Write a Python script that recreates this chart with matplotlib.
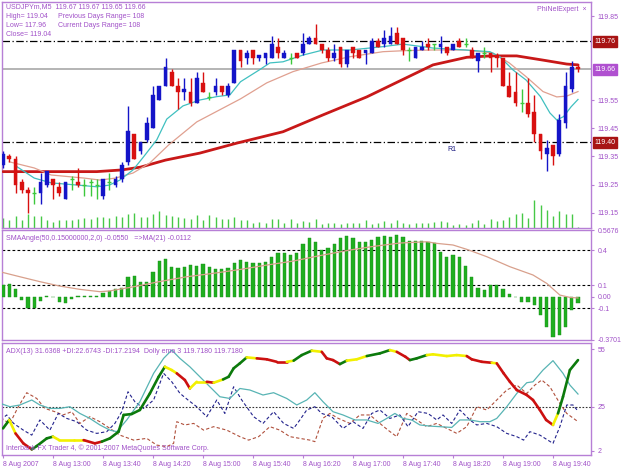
import matplotlib
matplotlib.use('Agg')
import matplotlib.pyplot as plt
import matplotlib.transforms as mtransforms
from matplotlib.collections import LineCollection
import numpy as np

# ---------------- data ----------------
opens = [119.32, 119.35, 119.34, 119.26, 119.23, 119.22, 119.22, 119.25, 119.27, 119.24,
         119.20, 119.27, 119.26, 119.25, 119.26, 119.25, 119.21, 119.26, 119.25, 119.27,
         119.33, 119.43, 119.37, 119.41, 119.45, 119.55, 119.60, 119.65, 119.60, 119.58,
         119.58, 119.54, 119.61, 119.56, 119.58, 119.60, 119.57, 119.61, 119.73, 119.70,
         119.73, 119.70, 119.70, 119.70, 119.74, 119.70, 119.70, 119.72, 119.72, 119.75,
         119.77, 119.75, 119.73, 119.70, 119.74, 119.68, 119.74, 119.73, 119.72, 119.72,
         119.76, 119.75, 119.75, 119.79, 119.77, 119.73, 119.70, 119.73, 119.75, 119.75,
         119.74, 119.74, 119.73, 119.76, 119.75, 119.73, 119.69, 119.72, 119.72, 119.71,
         119.70, 119.60, 119.58, 119.54, 119.54, 119.51, 119.43, 119.36, 119.39, 119.36,
         119.47, 119.59, 119.67]
highs = [119.37, 119.36, 119.35, 119.27, 119.24, 119.24, 119.29, 119.30, 119.27, 119.26,
         119.26, 119.28, 119.31, 119.27, 119.27, 119.27, 119.27, 119.29, 119.28, 119.33,
         119.53, 119.43, 119.40, 119.49, 119.60, 119.60, 119.70, 119.66, 119.63, 119.63,
         119.63, 119.65, 119.65, 119.58, 119.63, 119.60, 119.61, 119.73, 119.73, 119.73,
         119.73, 119.71, 119.72, 119.78, 119.77, 119.73, 119.72, 119.72, 119.79, 119.78,
         119.82, 119.75, 119.74, 119.75, 119.74, 119.73, 119.74, 119.73, 119.73, 119.77,
         119.77, 119.80, 119.81, 119.81, 119.77, 119.74, 119.74, 119.76, 119.77, 119.75,
         119.78, 119.74, 119.75, 119.77, 119.77, 119.74, 119.72, 119.74, 119.72, 119.72,
         119.70, 119.65, 119.65, 119.59, 119.63, 119.57, 119.43, 119.41, 119.39, 119.50,
         119.65, 119.69, 119.68]
lows = [119.31, 119.33, 119.22, 119.22, 119.15, 119.18, 119.18, 119.24, 119.20, 119.21,
        119.20, 119.23, 119.24, 119.21, 119.21, 119.20, 119.20, 119.23, 119.24, 119.26,
        119.32, 119.34, 119.36, 119.40, 119.45, 119.55, 119.60, 119.60, 119.52, 119.55,
        119.53, 119.54, 119.58, 119.55, 119.57, 119.57, 119.56, 119.61, 119.67, 119.68,
        119.68, 119.69, 119.68, 119.70, 119.70, 119.70, 119.68, 119.70, 119.71, 119.75,
        119.75, 119.72, 119.69, 119.69, 119.67, 119.67, 119.70, 119.70, 119.68, 119.72,
        119.74, 119.74, 119.75, 119.75, 119.71, 119.69, 119.70, 119.73, 119.73, 119.73,
        119.72, 119.71, 119.73, 119.74, 119.74, 119.70, 119.65, 119.70, 119.65, 119.67,
        119.60, 119.56, 119.53, 119.51, 119.49, 119.40, 119.34, 119.30, 119.32, 119.35,
        119.45, 119.58, 119.65]
closes = [119.36, 119.34, 119.25, 119.23, 119.22, 119.22, 119.26, 119.30, 119.25, 119.22,
          119.26, 119.27, 119.25, 119.25, 119.26, 119.25, 119.27, 119.26, 119.27, 119.32,
          119.44, 119.34, 119.40, 119.47, 119.57, 119.60, 119.67, 119.60, 119.58, 119.59,
          119.54, 119.63, 119.58, 119.56, 119.60, 119.58, 119.60, 119.73, 119.69, 119.72,
          119.70, 119.71, 119.72, 119.75, 119.72, 119.72, 119.70, 119.70, 119.75, 119.77,
          119.75, 119.73, 119.70, 119.72, 119.68, 119.73, 119.72, 119.70, 119.73, 119.76,
          119.74, 119.77, 119.78, 119.75, 119.73, 119.73, 119.74, 119.74, 119.74, 119.75,
          119.75, 119.72, 119.75, 119.74, 119.75, 119.70, 119.72, 119.72, 119.70, 119.70,
          119.60, 119.56, 119.54, 119.54, 119.50, 119.43, 119.37, 119.38, 119.35, 119.48,
          119.60, 119.67, 119.66]
volumes = [31, 23, 35, 23, 43, 35, 35, 23, 18, 23, 23, 23, 28, 31, 28, 33, 33, 31, 35, 33,
           43, 45, 33, 33, 43, 51, 38, 35, 33, 31, 28, 38, 23, 40, 33, 28, 28, 33, 25, 23,
           15, 18, 15, 28, 28, 15, 28, 15, 21, 18, 28, 13, 15, 15, 11, 15, 15, 15, 23, 11,
           15, 21, 15, 23, 15, 11, 15, 15, 15, 18, 21, 18, 8, 13, 8, 15, 23, 11, 28, 21,
           23, 33, 43, 45, 31, 85, 68, 55, 35, 51, 41, 43, 3]

# moving averages on price (bar index, price)
ma_fast_x = [2.2, 5, 7.7, 13, 15, 17, 18.7, 20.8, 22.5, 24.6, 26.2, 28.8, 31.5, 34.2, 36.3,
             38, 41, 42.7, 44.8, 48, 51.2, 55.5, 58.2, 60.8, 64, 68.8, 74, 77.9, 79.5, 81.6,
             83.7, 86, 87.5, 88.6, 89.7, 90.9, 92]
ma_fast_y = [119.314, 119.273, 119.256, 119.246, 119.242, 119.248, 119.266, 119.302, 119.349,
             119.409, 119.483, 119.530, 119.551, 119.563, 119.569, 119.616, 119.658, 119.683,
             119.687, 119.711, 119.729, 119.729, 119.735, 119.741, 119.750, 119.736, 119.729,
             119.723, 119.705, 119.658, 119.622, 119.563, 119.505, 119.480, 119.492, 119.527,
             119.553]
ma_mid_x = [1, 5, 7.7, 13, 15.5, 18, 20.8, 23.5, 26.5, 31, 38, 42.2, 46.4, 51, 55.5, 60.8,
            64.6, 68.8, 74, 78.4, 81, 83.7, 86.4, 88.6, 90.2, 92]
ma_mid_y = [119.331, 119.309, 119.284, 119.273, 119.266, 119.273, 119.291, 119.327, 119.391,
            119.473, 119.555, 119.612, 119.652, 119.683, 119.705, 119.723, 119.727, 119.729,
            119.729, 119.718, 119.683, 119.634, 119.581, 119.562, 119.565, 119.581]
ma_slow_x = [0, 15, 19, 22, 26, 31.5, 37.5, 44.8, 51.2, 58.2, 63.5, 68.8, 74.2, 78, 82.2,
             86.4, 90.2, 92]
ma_slow_y = [119.296, 119.296, 119.302, 119.312, 119.337, 119.362, 119.398, 119.438, 119.498,
             119.562, 119.619, 119.676, 119.703, 119.708, 119.708, 119.693, 119.679, 119.676]

level_r1 = 119.40
level_top = 119.76
level_bid = 119.66
main_ticks = [119.85, 119.55, 119.45, 119.35, 119.25, 119.15]

# SMAAngle histogram
sma_angle = [0.10, 0.11, 0.07, -0.03, -0.10, -0.10, -0.035, 0.005, -0.005, -0.043,
             -0.05, -0.023, 0.002, 0.003, 0.005, 0.008, 0.03, 0.05, 0.07, 0.075,
             0.166, 0.177, 0.129, 0.129, 0.214, 0.309, 0.32, 0.257, 0.249, 0.251,
             0.271, 0.266, 0.28, 0.257, 0.234, 0.234, 0.243, 0.286, 0.314, 0.30,
             0.286, 0.286, 0.30, 0.337, 0.377, 0.371, 0.357, 0.377, 0.45, 0.50,
             0.47, 0.40, 0.414, 0.449, 0.50, 0.52, 0.506, 0.471, 0.466, 0.486,
             0.514, 0.52, 0.514, 0.529, 0.514, 0.48, 0.475, 0.48, 0.471, 0.463,
             0.386, 0.343, 0.357, 0.343, 0.266, 0.166, 0.071, 0.057, 0.10, 0.10,
             0.066, 0.023, -0.006, -0.043, -0.043, -0.071, -0.157, -0.263, -0.343, -0.329,
             -0.257, -0.114, -0.055]
sma_ma_x = [-0.5, 2.7, 5.9, 9.1, 12.3, 15.5, 17, 21, 25, 29.4, 33.6, 38, 42.2, 46.5, 50.5,
            55.5, 59, 63.5, 67.8, 69.4, 72, 74.2, 77.4, 81.1, 84.8, 87, 89.1, 90.7, 92]
sma_ma_y = [0.214, 0.171, 0.129, 0.091, 0.063, 0.043, 0.049, 0.086, 0.129, 0.171, 0.20,
            0.234, 0.271, 0.306, 0.35, 0.40, 0.429, 0.46, 0.471, 0.457, 0.443, 0.406, 0.343,
            0.257, 0.186, 0.114, 0.014, -0.006, -0.011]
sma_levels = [0.4, 0.1, -0.1]
sma_ticks = [0.5676, 0.4, 0.1, 0.0, -0.1, -0.3701]
sma_tick_labels = ['0.5676', '0.4', '0.1', '0.00', '-0.1', '-0.3701']

# ADX panel
adx_x = [-0.4, 1.1, 2.7, 4.6, 5.9, 7.5, 9.1, 10.7, 12.3, 13.9, 15.5, 17.1, 18.2, 19.8, 21.9,
         24.1, 25.7, 27, 28.3, 29.9, 31.5, 33.1, 34.7, 36.3, 37.9, 39.5, 41.6, 43.3, 45.4, 47,
         48.6, 49.9, 51.2, 52.8, 54.4, 56.3, 58.2, 60, 61.4, 62.7, 64, 65.4, 66.7, 68.3, 69.9,
         71.8, 73.1, 74.7, 76.3, 77.9, 79, 80.6, 82.2, 83.8, 84.8, 86.4, 88, 89.6, 90.7, 92]
adx_y = [26.7, 25, 25.9, 28.5, 25.9, 24.1, 24.1, 25, 21.5, 18.9, 15.5, 12.8, 12, 18.1, 27.6,
         42.4, 50.2, 54.5, 50.2, 45.8, 40.6, 35.4, 30.2, 29.3, 34.5, 33.7, 31.1, 32.3, 29.3, 25.9,
         28.5, 32.3, 27.6, 22.4, 20.7, 18.1, 18.1, 16.3, 18.9, 21.5, 18.9, 18.1, 15.5, 14.9, 14.6,
         14.2, 18.1, 18.1, 17.2, 17.2, 18.9, 25, 31.9, 37.5, 38, 44.1, 49, 42.4, 36.3, 31.6]
pdi_x = [-0.4, 0.6, 1.7, 3.25, 4.6, 5.9, 7.5, 8.85, 10.2, 11.8, 13.4, 15, 16.6, 17.9, 19, 20,
         21.1, 22.5, 24.1, 25.7, 27, 28.3, 29.6, 31, 32.6, 34.2, 35.5, 36.9, 38.2, 40.1, 41.6,
         43.3, 44.9, 46.5, 47.5, 48.6, 49.9, 51, 52.6, 54.4, 56, 57.6, 59, 60.3, 61.9, 63.5,
         64.8, 66.4, 68, 69.4, 70.4, 71.8, 73.1, 74.7, 75.8, 77.4, 79, 80.6, 82.2, 83.3, 84.3,
         85.9, 88, 89.1, 90.2, 91.2, 92]
pdi_y = [18.1, 20.7, 16.3, 12.8, 10.2, 18.1, 12.8, 21.5, 18.9, 17.2, 12.8, 11.1, 12, 16.3,
         22.4, 32.8, 27.6, 24.1, 28.5, 42.4, 38, 32, 28.5, 25, 19.8, 28.5, 21.5, 35.4, 28.5,
         19.8, 16.3, 22.4, 16.3, 13.7, 18.1, 23.3, 25, 21.5, 19.8, 13.7, 17.2, 13.7, 21.5,
         23.3, 18.9, 20.7, 14.6, 22.4, 21.5, 18.1, 20.7, 16.3, 23.3, 18.1, 15.5, 16.3, 14.6,
         11.1, 9.4, 7.6, 12, 10.2, 5.9, 14.6, 25.9, 25.9, 22.7]
mdi_x = [-0.4, 1.1, 2.45, 3.8, 5.4, 6.7, 8.3, 9.6, 11, 12.3, 13.9, 15.5, 17.1, 18.7, 20.9, 23,
         24.6, 26.2, 27.3, 27.8, 29.1, 30.5, 32.1, 33.7, 35.8, 37.9, 39.3, 40.9, 42.7, 44.3,
         45.9, 47.5, 49.1, 49.9, 51.2, 52.3, 53.6, 55.5, 57.1, 58.7, 60.3, 61.6, 63, 64.6, 66.2,
         67.8, 69.4, 71, 72.6, 74.2, 75.8, 77.4, 79, 80.6, 82.2, 83.8, 85.1, 86.2, 87.5, 89.1,
         90.2, 92]
mdi_y = [19, 16.3, 25, 32.3, 29.3, 24.1, 22.4, 20.7, 22.4, 16.3, 19.8, 17.2, 13.7, 10.2, 7.6,
         8.5, 5, 4.2, 5.9, 17.2, 15.5, 16.3, 12.8, 14.6, 12.8, 9.4, 7.6, 9.4, 14.6, 12.8, 9.4,
         8.5, 7.6, 6.8, 19, 21.5, 19, 16.3, 20.7, 20.7, 16.3, 12.8, 9.4, 21.5, 18.1, 14.6, 16.3,
         13.7, 11.1, 14.6, 25, 23.3, 28.5, 33.7, 36.3, 31.9, 36.3, 38.9, 35.4, 26.7, 21.5, 17.2]
dolly_x = [0, 1, 2, 3.25, 4.6, 5.4, 7, 8, 9, 11.3,
           12.9, 14.7, 15.8, 17.1, 18.5, 19.3, 20.6, 21.9, 23.5, 24.9,
           25.9, 27, 27.8, 29.1, 29.9, 31, 32.6, 33.7, 35.2, 36.1,
           36.9, 37.9, 39, 40.6, 42.2, 43.8, 45.4, 46.5, 47.8, 49.4,
           51, 51.8, 52.8, 53.9, 55, 56.6, 58.2, 60.3, 61.9, 63,
           64.4, 65.1, 66.2, 67.8, 68.8, 71, 72.6, 74.2, 75, 76.6,
           78.2, 79, 80.1, 81.1, 82.2, 83.8, 84.8, 85.9, 86.9, 88,
           88.8, 89.6, 90.7, 92]
dolly_y = [13.7, 18.1, 11.1, 5.9, 2.8, 4.5, 8.5, 9.4, 7.6, 7.6,
           7.6, 5.9, 6.8, 8.5, 12, 20.7, 21.2, 23.3, 31.9, 40.6,
           45.8, 44.1, 42.4, 38.9, 34.5, 38, 38, 37.5, 39.2, 40.6,
           45, 47.6, 50.7, 50.2, 49.7, 48.4, 48.4, 49, 51.9, 54.2,
           53.6, 50.2, 49.3, 47.2, 49, 49.7, 51.4, 52.8, 54.5, 53.6,
           51, 49.3, 50.2, 51.9, 52.3, 51.4, 51.9, 51.4, 49.7, 48.4,
           47.9, 47.6, 42.4, 38, 33.7, 31.1, 28.5, 23.3, 18.1, 15.5,
           21.5, 30.2, 44.1, 49.3]
# state of each segment: u = rising, f = flat, d = falling
dolly_state = ("ufdduuufff" "dduuuuuuuu" "ffddffdfuu" "uufdddfuuf"
               "ddduffuufd" "duuffffddd" "fddddddddf" "uuu")
adx_level = 25
adx_ticks = [55, 25, 2]

time_ticks = list(range(0, 93, 8))
time_labels = ['8 Aug 2007', '8 Aug 13:00', '8 Aug 13:40', '8 Aug 14:20', '8 Aug 15:00',
               '8 Aug 15:40', '8 Aug 16:20', '8 Aug 17:00', '8 Aug 17:40', '8 Aug 18:20',
               '8 Aug 19:00', '8 Aug 19:40']

# ---------------- drawing ----------------
plt.rcParams['font.family'] = ['Liberation Sans', 'DejaVu Sans']
FS = 5
PURPLE = '#a050c8'
FRAME = '#b77fd6'
BLUE = '#1414c8'
RED = '#d81010'
DOJI = '#3cc83c'

W, H = 625, 469
fig = plt.figure(figsize=(6.25, 4.69), dpi=100)
fig.patch.set_facecolor('white')


def px_axes(left, top, right, bottom):
    return fig.add_axes([left / W, 1 - bottom / H, (right - left) / W, (bottom - top) / H])


def ftext(x, y, s, **kw):
    fig.text(x / W, 1 - y / H, s, fontsize=FS, color=PURPLE, va='center', ha='left', **kw)


ax1 = px_axes(2, 2, 591, 228)
ax2 = px_axes(2, 230, 591, 340)
ax3 = px_axes(2, 343, 591, 455)
XL = (-0.16, 94.08)
for ax in (ax1, ax2, ax3):
    ax.set_xlim(*XL)
    for sp in ax.spines.values():
        sp.set_color(FRAME)
        sp.set_linewidth(1.0)
    ax.yaxis.tick_right()
    ax.tick_params(axis='y', colors=FRAME, labelcolor=PURPLE, labelsize=FS,
                   direction='out', length=2.5, width=0.8, pad=2)
    ax.tick_params(axis='x', bottom=False, labelbottom=False)

# main panel
ax1.set_ylim(119.0953, 119.8999)
x = np.arange(len(opens))
o = np.array(opens); hi = np.array(highs); lo = np.array(lows); c = np.array(closes)
up = c > o
dn = c < o
dj = c == o

ax1.axhline(level_bid, color='#b4b4b4', lw=1.4, zorder=1)
ax1.axhline(level_top, color='black', lw=0.9, ls=(0, (6, 2, 1, 2)), zorder=1)
ax1.axhline(level_r1, color='black', lw=0.9, ls=(0, (6, 2, 1, 2)), zorder=1)

vol = np.array(volumes, dtype=float)
ax1.vlines(x, 0, vol / (3 * 226.0), transform=ax1.get_xaxis_transform(),
           color='#46c846', lw=1.0, zorder=2)

ax1.plot(ma_slow_x, ma_slow_y, color='#c81818', lw=2.0, zorder=3, solid_capstyle='round')
ax1.plot(ma_mid_x, ma_mid_y, color='#e0a090', lw=0.9, zorder=3)
ax1.plot(ma_fast_x, ma_fast_y, color='#40c0c0', lw=0.9, zorder=3)

ax1.vlines(x[up], lo[up], hi[up], color=BLUE, lw=1.0, zorder=4)
ax1.vlines(x[dn], lo[dn], hi[dn], color=RED, lw=1.0, zorder=4)
ax1.vlines(x[dj], lo[dj], hi[dj], color=DOJI, lw=1.0, zorder=4)
ax1.bar(x[up], (c - o)[up], bottom=o[up], width=0.62, color=BLUE, edgecolor=BLUE,
        lw=0.3, zorder=5)
ax1.bar(x[dn], (o - c)[dn], bottom=c[dn], width=0.62, color=RED, edgecolor=RED,
        lw=0.3, zorder=5)
ax1.hlines(o[dj], x[dj] - 0.32, x[dj] + 0.32, color=DOJI, lw=1.0, zorder=5)

ax1.set_yticks(main_ticks)
ax1.set_yticklabels(['%.2f' % v for v in main_ticks])
btr = mtransforms.blended_transform_factory(ax1.transAxes, ax1.transData)
for val, bg in [(level_top, '#a81414'), (level_bid, '#b050d0'), (level_r1, '#a81414')]:
    ax1.text(1.006, val, '%.2f' % val, transform=btr, fontsize=FS, color='white',
             va='center', ha='left', clip_on=False,
             bbox=dict(boxstyle='square,pad=0.25', fc=bg, ec=bg))
ax1.text(71.8, level_r1 - 0.012, 'R1', fontsize=FS, color='#1a1a80', va='top', ha='center')

# SMAAngle panel
ax2.set_ylim(-0.371, 0.5716)
ax2.bar(x, sma_angle, width=0.5, color='#1fae1f', edgecolor='#178f17', lw=0.3, zorder=3)
for lv in sma_levels:
    ax2.axhline(lv, color='black', lw=0.8, ls=(0, (2.5, 2)), zorder=1)
ax2.plot(sma_ma_x, sma_ma_y, color='#d8a08c', lw=0.9, zorder=4)
ax2.set_yticks(sma_ticks)
ax2.set_yticklabels(sma_tick_labels)

# ADX panel
ax3.set_ylim(-0.16, 58.2)
ax3.axhline(adx_level, color='#333333', lw=0.8, ls=(0, (1.5, 1.5)), zorder=1)
ax3.plot(mdi_x, mdi_y, color='#b0503c', lw=0.8, ls=(0, (3, 2)), zorder=2)
ax3.plot(pdi_x, pdi_y, color='#22228c', lw=0.8, ls=(0, (3, 2)), zorder=2)
ax3.plot(adx_x, adx_y, color='#58b4b4', lw=0.9, zorder=3)
state_color = {'u': '#0c7a0c', 'f': '#f2f000', 'd': '#cc1010'}
pts = np.column_stack([dolly_x, dolly_y])
segs = np.stack([pts[:-1], pts[1:]], axis=1)
cols = [state_color[s] for s in dolly_state[:len(segs)]]
ax3.add_collection(LineCollection(segs, colors=cols, linewidths=1.9, zorder=4,
                                  capstyle='round'))
ax3.set_yticks(adx_ticks)
ax3.set_yticklabels([str(v) for v in adx_ticks])
ax3.tick_params(axis='x', bottom=True, labelbottom=True, colors=FRAME,
                labelcolor=PURPLE, labelsize=FS, direction='out', length=2.5, pad=1.5)
ax3.set_xticks(time_ticks)
ax3.set_xticklabels(time_labels, ha='left')

# texts
ftext(6, 7, 'USDJPYm,M5  119.67 119.67 119.65 119.66')
ftext(6, 16, 'High= 119.04')
ftext(58, 16, 'Previous Days Range= 108')
ftext(6, 25.5, 'Low= 117.96')
ftext(58, 25.5, 'Current Days Range= 108')
ftext(6, 35, 'Close= 119.04')
ftext(537, 9.5, 'PhiNelExpert  \u00d7')
ftext(6, 238, 'SMAAngle(50,0.15000000,2,0) -0.0550   =>MA(21) -0.0112')
ftext(6, 351.5, 'ADX(13) 31.6368 +DI:22.6743 -DI:17.2194  Dolly ema 3 119.7180 119.7180')
ftext(6, 448.5, 'Interbank FX Trader 4, \u00a9 2001-2007 MetaQuotes Software Corp.')

fig.savefig('out.png', dpi=100, facecolor='white')
